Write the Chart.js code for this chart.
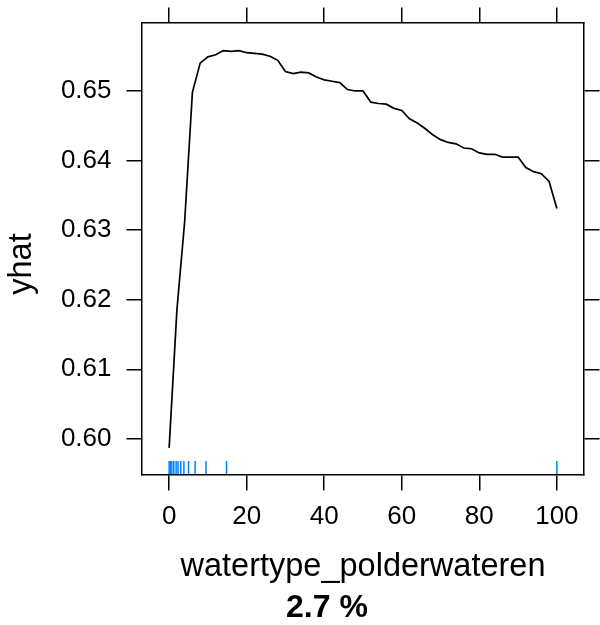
<!DOCTYPE html>
<html>
<head>
<meta charset="utf-8">
<script src="https://cdn.jsdelivr.net/npm/chart.js@4/dist/chart.umd.min.js"></script>
<style>
  html, body { margin: 0; padding: 0; background: #ffffff; }
  #wrap { width: 600px; height: 625px; }
</style>
</head>
<body>
<div id="wrap"><canvas id="c" width="600" height="625"></canvas></div>
<script>
// ---- data ----
const xGrid = [0, 2, 4, 6, 8, 10, 12, 14, 16, 18, 20, 22, 24, 26, 28, 30, 32, 34, 36, 38, 40,
  42, 44, 46, 48, 50, 52, 54, 56, 58, 60, 62, 64, 66, 68, 70, 72, 74, 76, 78, 80,
  82, 84, 86, 88, 90, 92, 94, 96, 98, 100];
const yhat = [0.5987, 0.6185, 0.6312, 0.6498, 0.6540, 0.6549, 0.6552, 0.6558, 0.6557, 0.6558,
  0.6555, 0.6554, 0.6553, 0.6550, 0.6544, 0.6528, 0.6525, 0.6527, 0.6526, 0.6520,
  0.6516, 0.6514, 0.6512, 0.6502, 0.6500, 0.6500, 0.6484, 0.6482, 0.6481, 0.6475,
  0.6472, 0.6460, 0.6454, 0.6446, 0.6437, 0.6430, 0.6426, 0.6424, 0.6418, 0.6417,
  0.6411, 0.6409, 0.6409, 0.6405, 0.6405, 0.6405, 0.6390, 0.6384, 0.6381, 0.6370,
  0.6331];
const rugX = [0, 0.3, 0.7, 1.2, 1.8, 2.3, 3, 3.8, 5, 6.7, 9.5, 14.8, 100];
const xTicks = [0, 20, 40, 60, 80, 100];
const yTicks = [0.60, 0.61, 0.62, 0.63, 0.64, 0.65];
const xLabel = 'watertype_polderwateren';
const yLabel = 'yhat';
const subLabel = '2.7 %';

// ---- styling / layout ----
const FONT = "'Liberation Sans', Arial, Helvetica, sans-serif";
const X_MIN = -7, X_MAX = 107;
const Y_MIN = 0.5948, Y_MAX = 0.65977;
const TL = 15.5;

function setTicks(list) {
  return function (scale) { scale.ticks = list.map(v => ({ value: v })); };
}
function fixW(w) {
  return function (s) { s.width = w; s.paddingTop = 0; s.paddingBottom = 0; s.paddingLeft = 0; s.paddingRight = 0; };
}
function fixH(h) {
  return function (s) { s.height = h; s.paddingTop = 0; s.paddingBottom = 0; s.paddingLeft = 0; s.paddingRight = 0; };
}

const axisGrid = {
  drawOnChartArea: false, drawTicks: true, tickLength: TL,
  color: '#000', tickColor: '#000', lineWidth: 1.5, tickWidth: 1.5
};
const axisBorder = { display: true, color: '#000', width: 1.5 };

const rugPlugin = {
  id: 'rug',
  afterDatasetsDraw(chart) {
    const xs = chart.scales.x;
    const area = chart.chartArea;
    const ctx = chart.ctx;
    ctx.save();
    ctx.strokeStyle = '#0080ff';
    ctx.lineWidth = 1.5;
    rugX.forEach(v => {
      const px = xs.getPixelForValue(v);
      ctx.beginPath();
      ctx.moveTo(px, area.bottom - 1);
      ctx.lineTo(px, area.bottom - 14);
      ctx.stroke();
    });
    ctx.restore();
  }
};

const labelPlugin = {
  id: 'extraLabels',
  afterDraw(chart) {
    const ctx = chart.ctx;
    ctx.save();
    ctx.fillStyle = '#000';
    // bold sub label under the x-axis title
    ctx.font = 'bold 32px ' + FONT;
    ctx.textAlign = 'left';
    ctx.textBaseline = 'middle';
    ctx.fillText(subLabel, 286, 608);
    // rotated y-axis title
    ctx.translate(22.25, 264);
    ctx.rotate(-Math.PI / 2);
    ctx.font = '32.5px ' + FONT;
    ctx.textAlign = 'center';
    ctx.textBaseline = 'middle';
    ctx.fillText(yLabel, 0, 0);
    ctx.restore();
  }
};

new Chart(document.getElementById('c'), {
  type: 'scatter',
  data: {
    datasets: [{
      data: xGrid.map((x, i) => ({ x: x, y: yhat[i] })),
      showLine: true,
      borderColor: '#000',
      borderWidth: 1.7,
      pointRadius: 0,
      tension: 0,
      xAxisID: 'x', yAxisID: 'y'
    }]
  },
  options: {
    responsive: false,
    animation: false,
    devicePixelRatio: 1,
    layout: { padding: { top: 0, left: 0, right: 0, bottom: 33 } },
    plugins: {
      legend: { display: false },
      tooltip: { enabled: false },
      title: { display: false }
    },
    scales: {
      x: {
        type: 'linear', position: 'bottom', min: X_MIN, max: X_MAX,
        afterBuildTicks: setTicks(xTicks), afterFit: fixH(117),
        grid: axisGrid, border: axisBorder,
        ticks: { color: '#000', font: { family: FONT, size: 26 }, padding: 11, maxRotation: 0,
          callback: v => String(v) },
        title: { display: true, text: xLabel, color: '#000',
          font: { family: FONT, size: 32.5, lineHeight: 1 }, padding: { top: 0, bottom: 8.75 } }
      },
      x2: {
        type: 'linear', position: 'top', min: X_MIN, max: X_MAX,
        afterBuildTicks: setTicks(xTicks), afterFit: fixH(23),
        grid: axisGrid, border: axisBorder,
        ticks: { display: false }
      },
      y: {
        type: 'linear', position: 'left', min: Y_MIN, max: Y_MAX,
        afterBuildTicks: setTicks(yTicks), afterFit: fixW(142),
        grid: axisGrid, border: axisBorder,
        ticks: { color: '#000', font: { family: FONT, size: 26 }, padding: 15,
          callback: v => v.toFixed(2) },
        title: { display: false }
      },
      y2: {
        type: 'linear', position: 'right', min: Y_MIN, max: Y_MAX,
        afterBuildTicks: setTicks(yTicks), afterFit: fixW(16),
        grid: axisGrid, border: axisBorder,
        ticks: { display: false }
      }
    }
  },
  plugins: [rugPlugin, labelPlugin]
});
</script>
</body>
</html>
